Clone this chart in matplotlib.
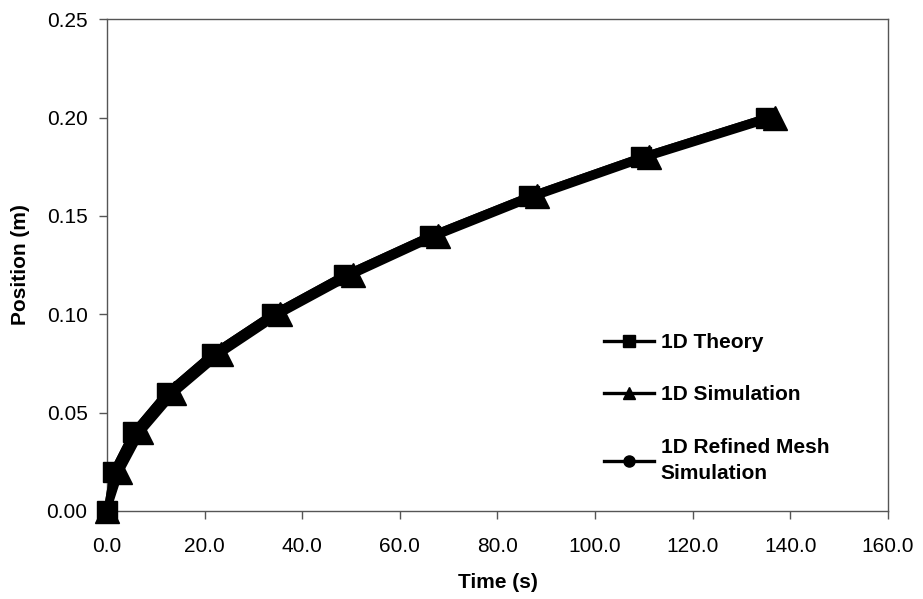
import matplotlib
matplotlib.use("Agg")
import matplotlib.pyplot as plt
from matplotlib.ticker import FormatStrFormatter

plt.rcParams['font.family'] = ['Liberation Sans', 'DejaVu Sans']

# position values (m)
pos = [0.00, 0.02, 0.04, 0.06, 0.08, 0.10, 0.12, 0.14, 0.16, 0.18, 0.20]
# times (s)
t_theory = [0.0, 1.3, 5.4, 12.2, 21.6, 33.8, 48.6, 66.2, 86.4, 109.4, 135.0]
t_sim = [0.0, 2.6, 6.9, 13.8, 23.3, 35.4, 50.3, 67.8, 88.0, 111.0, 136.8]
t_refined = [0.0, 1.3, 5.4, 12.2, 21.6, 33.8, 48.6, 66.2, 86.4, 109.4, 135.0]

labels = ['1D Theory', '1D Simulation', '1D Refined Mesh\nSimulation']
xticks = [0, 20, 40, 60, 80, 100, 120, 140, 160]
yticks = [0.00, 0.05, 0.10, 0.15, 0.20, 0.25]

fig = plt.figure(figsize=(9.23, 5.99), dpi=100)
ax = fig.add_axes([0.116, 0.147, 0.846, 0.821])

ax.plot(t_refined, pos, color='black', lw=5, marker='o', ms=14, zorder=2, clip_on=False)
ax.plot(t_sim, pos, color='black', lw=5, marker='^', ms=17, zorder=3, clip_on=False)
ax.plot(t_theory, pos, color='black', lw=5, marker='s', ms=14, zorder=4, clip_on=False)

ax.set_xlim(0, 160)
ax.set_ylim(0, 0.25)
ax.set_xticks(xticks)
ax.set_yticks(yticks)
ax.xaxis.set_major_formatter(FormatStrFormatter('%.1f'))
ax.yaxis.set_major_formatter(FormatStrFormatter('%.2f'))
ax.tick_params(direction='out', length=6, width=1, color='#555555', labelsize=15)
ax.tick_params(axis='x', pad=13)
ax.tick_params(axis='y', pad=8)
for sp in ax.spines.values():
    sp.set_color('#555555')
    sp.set_linewidth(1)

ax.set_xlabel('Time (s)', fontsize=15, fontweight='bold', labelpad=12)
ax.set_ylabel('Position (m)', fontsize=15, fontweight='bold', labelpad=12)

# legend handles use thinner lines and smaller markers
h1, = ax.plot([], [], color='black', lw=2.4, marker='s', ms=8)
h2, = ax.plot([], [], color='black', lw=2.4, marker='^', ms=9)
h3, = ax.plot([], [], color='black', lw=2.4, marker='o', ms=8)
leg = ax.legend([h1, h2, h3], labels, loc='upper left',
                bbox_to_anchor=(0.613, 0.40), frameon=False,
                prop={'weight': 'bold', 'size': 15},
                handlelength=2.4, handletextpad=0.3, labelspacing=1.6)
leg.get_texts()[2].set_linespacing(1.5)

fig.savefig('out.png', dpi=100)
